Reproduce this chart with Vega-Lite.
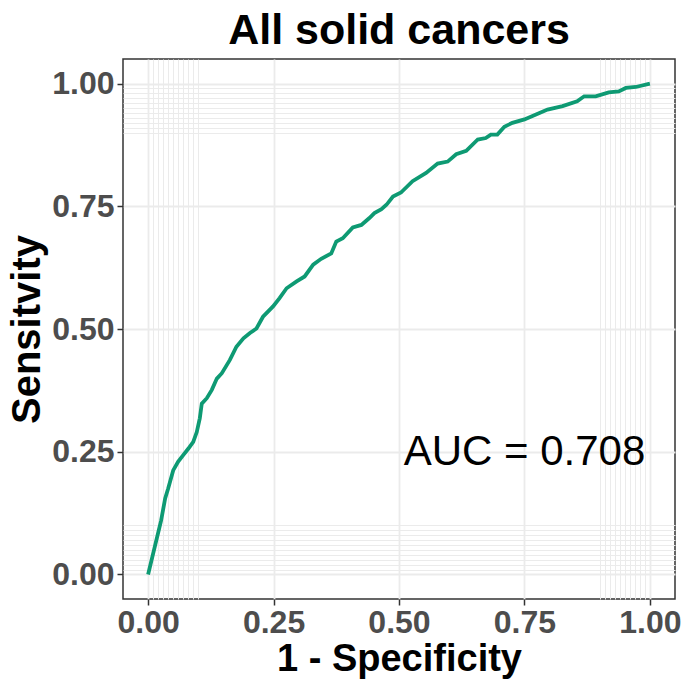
{
  "$schema": "https://vega.github.io/schema/vega-lite/v6.json",
  "autosize": {"type": "none"},
  "width": 552,
  "height": 540,
  "padding": {"left": 123, "top": 59, "right": 9, "bottom": 82},
  "background": "white",
  "view": {"stroke": "#333333", "strokeWidth": 1.5, "fill": "white"},
  "config": {"font": "Liberation Sans"},
  "title": {
    "text": "All solid cancers",
    "anchor": "middle",
    "frame": "group",
    "fontSize": 43,
    "fontWeight": "bold",
    "color": "#000000",
    "font": "Liberation Sans",
    "offset": 6
  },
  "datasets": {
    "roc": [
      {"fpr": 0.0, "tpr": 0.0},
      {"fpr": 0.026, "tpr": 0.110},
      {"fpr": 0.034, "tpr": 0.155},
      {"fpr": 0.040, "tpr": 0.175},
      {"fpr": 0.050, "tpr": 0.212},
      {"fpr": 0.060, "tpr": 0.230},
      {"fpr": 0.070, "tpr": 0.243},
      {"fpr": 0.080, "tpr": 0.256},
      {"fpr": 0.090, "tpr": 0.270},
      {"fpr": 0.097, "tpr": 0.290},
      {"fpr": 0.103, "tpr": 0.318},
      {"fpr": 0.107, "tpr": 0.348},
      {"fpr": 0.117, "tpr": 0.359},
      {"fpr": 0.127, "tpr": 0.376},
      {"fpr": 0.137, "tpr": 0.399},
      {"fpr": 0.147, "tpr": 0.410},
      {"fpr": 0.163, "tpr": 0.437},
      {"fpr": 0.176, "tpr": 0.464},
      {"fpr": 0.190, "tpr": 0.481},
      {"fpr": 0.203, "tpr": 0.492},
      {"fpr": 0.216, "tpr": 0.501},
      {"fpr": 0.229, "tpr": 0.525},
      {"fpr": 0.249, "tpr": 0.546},
      {"fpr": 0.262, "tpr": 0.563},
      {"fpr": 0.276, "tpr": 0.583},
      {"fpr": 0.296, "tpr": 0.597},
      {"fpr": 0.312, "tpr": 0.607},
      {"fpr": 0.329, "tpr": 0.631},
      {"fpr": 0.345, "tpr": 0.643},
      {"fpr": 0.365, "tpr": 0.654},
      {"fpr": 0.375, "tpr": 0.678},
      {"fpr": 0.388, "tpr": 0.685},
      {"fpr": 0.408, "tpr": 0.707},
      {"fpr": 0.425, "tpr": 0.712},
      {"fpr": 0.441, "tpr": 0.726},
      {"fpr": 0.451, "tpr": 0.736},
      {"fpr": 0.465, "tpr": 0.744},
      {"fpr": 0.475, "tpr": 0.753},
      {"fpr": 0.488, "tpr": 0.770},
      {"fpr": 0.504, "tpr": 0.778},
      {"fpr": 0.527, "tpr": 0.801},
      {"fpr": 0.554, "tpr": 0.818},
      {"fpr": 0.577, "tpr": 0.837},
      {"fpr": 0.597, "tpr": 0.841},
      {"fpr": 0.614, "tpr": 0.856},
      {"fpr": 0.634, "tpr": 0.863},
      {"fpr": 0.657, "tpr": 0.886},
      {"fpr": 0.673, "tpr": 0.889},
      {"fpr": 0.683, "tpr": 0.896},
      {"fpr": 0.696, "tpr": 0.896},
      {"fpr": 0.710, "tpr": 0.912},
      {"fpr": 0.726, "tpr": 0.920},
      {"fpr": 0.750, "tpr": 0.927},
      {"fpr": 0.773, "tpr": 0.937},
      {"fpr": 0.796, "tpr": 0.947},
      {"fpr": 0.826, "tpr": 0.954},
      {"fpr": 0.855, "tpr": 0.964},
      {"fpr": 0.869, "tpr": 0.974},
      {"fpr": 0.892, "tpr": 0.974},
      {"fpr": 0.918, "tpr": 0.982},
      {"fpr": 0.938, "tpr": 0.984},
      {"fpr": 0.952, "tpr": 0.991},
      {"fpr": 0.972, "tpr": 0.993},
      {"fpr": 1.0, "tpr": 1.0}
    ],
    "note": [{"fpr": 0.75, "tpr": 0.25, "label": "AUC = 0.708"}]
  },
  "layer": [
    {
      "data": {"name": "roc"},
      "mark": {"type": "line", "color": "#0E9A73", "strokeWidth": 3.8, "clip": true},
      "encoding": {
        "x": {
          "field": "fpr",
          "type": "quantitative",
          "scale": {"domain": [-0.05, 1.05], "nice": false, "zero": false},
          "axis": {
            "title": "1 - Specificity",
            "titleFontSize": 38,
            "titleFontWeight": "bold",
            "titleColor": "#000000",
            "titlePadding": 2,
            "tickCount": 100,
            "values": [0, 0.01, 0.02, 0.03, 0.04, 0.05, 0.06, 0.07, 0.08, 0.09, 0.1, 0.25, 0.5, 0.75, 0.9, 0.91, 0.92, 0.93, 0.94, 0.95, 0.96, 0.97, 0.98, 0.99, 1],
            "labelExpr": "abs(datum.value * 4 - round(datum.value * 4)) < 0.000001 ? format(datum.value, '.2f') : ''",
            "labelFontSize": 32,
            "labelFontWeight": "bold",
            "labelColor": "#4D4D4D",
            "labelPadding": 2,
            "labelOverlap": false,
            "labelFlush": false,
            "domain": false,
            "tickColor": "#333333",
            "tickWidth": 1.5,
            "tickSize": 6,
            "tickOpacity": {"condition": {"test": "abs(datum.value * 4 - round(datum.value * 4)) > 0.000001", "value": 0}, "value": 1},
            "grid": true,
            "gridColor": "#EBEBEB",
            "gridWidth": {"condition": {"test": "abs(datum.value * 4 - round(datum.value * 4)) > 0.000001", "value": 1}, "value": 1.8}
          }
        },
        "y": {
          "field": "tpr",
          "type": "quantitative",
          "scale": {"domain": [-0.05, 1.05], "nice": false, "zero": false},
          "axis": {
            "title": "Sensitvity",
            "titleFontSize": 40,
            "titleFontWeight": "bold",
            "titleColor": "#000000",
            "titlePadding": 4,
            "tickCount": 100,
            "values": [0, 0.01, 0.02, 0.03, 0.04, 0.05, 0.06, 0.07, 0.08, 0.09, 0.1, 0.25, 0.5, 0.75, 0.9, 0.91, 0.92, 0.93, 0.94, 0.95, 0.96, 0.97, 0.98, 0.99, 1],
            "labelExpr": "abs(datum.value * 4 - round(datum.value * 4)) < 0.000001 ? format(datum.value, '.2f') : ''",
            "labelFontSize": 32,
            "labelFontWeight": "bold",
            "labelColor": "#4D4D4D",
            "labelPadding": 3,
            "labelOverlap": false,
            "labelFlush": false,
            "domain": false,
            "tickColor": "#333333",
            "tickWidth": 1.5,
            "tickSize": 6,
            "tickOpacity": {"condition": {"test": "abs(datum.value * 4 - round(datum.value * 4)) > 0.000001", "value": 0}, "value": 1},
            "grid": true,
            "gridColor": "#EBEBEB",
            "gridWidth": {"condition": {"test": "abs(datum.value * 4 - round(datum.value * 4)) > 0.000001", "value": 1}, "value": 1.8}
          }
        }
      }
    },
    {
      "data": {"name": "note"},
      "mark": {"type": "text", "fontSize": 42, "font": "Liberation Sans", "color": "#000000", "align": "center", "baseline": "middle"},
      "encoding": {
        "x": {"field": "fpr", "type": "quantitative"},
        "y": {"field": "tpr", "type": "quantitative"},
        "text": {"field": "label"}
      }
    }
  ]
}
